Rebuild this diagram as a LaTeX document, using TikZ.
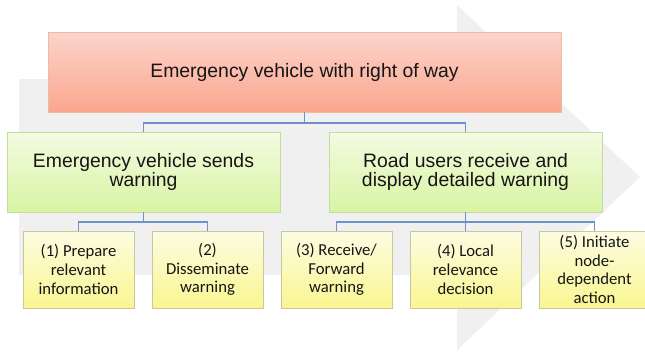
\documentclass[tikz,border=0pt]{standalone}
\usepackage{fontspec}
\setmainfont{Liberation Sans}
\newfontfamily\carlitofont{Carlito}
\usetikzlibrary{shadows}
\definecolor{bgarrow}{HTML}{F0F0F0}
\definecolor{pinkTop}{HTML}{FCD4CC}
\definecolor{pinkBot}{HTML}{FBA68D}
\definecolor{pinkLine}{HTML}{ECBBA4}
\definecolor{greenTop}{HTML}{F3FBE2}
\definecolor{greenBot}{HTML}{D8F4A2}
\definecolor{greenLine}{HTML}{C6DBA4}
\definecolor{yelTop}{HTML}{FDFCE2}
\definecolor{yelBot}{HTML}{F9F690}
\definecolor{yelLine}{HTML}{C8C7A2}
\definecolor{connBlue}{HTML}{6B93C7}
\definecolor{txt}{HTML}{151515}
\tikzset{
  boxbase/.style={draw, line width=0.8pt, inner sep=0pt, align=center, text=txt,
    drop shadow={shadow xshift=1pt, shadow yshift=-1.3pt, fill=black, opacity=0.22}},
  topbox/.style={boxbase, draw=pinkLine, top color=pinkTop, bottom color=pinkBot,
    minimum width=513pt, minimum height=80pt, font=\fontsize{19.4}{20}\selectfont},
  midbox/.style={boxbase, draw=greenLine, top color=greenTop, bottom color=greenBot,
    minimum width=273pt, minimum height=80pt, font=\fontsize{19.4}{19.5}\selectfont},
  leafbox/.style={boxbase, draw=yelLine, top color=yelTop, bottom color=yelBot,
    minimum width=111pt, minimum height=77pt, font=\carlitofont\fontsize{16.7}{18.6}\selectfont},
  conn/.style={draw=connBlue, line width=1.3pt}
}
\begin{document}
\begin{tikzpicture}[x=1pt,y=-1pt]
\useasboundingbox (0,0) rectangle (645,351);
\clip (0,0) rectangle (645,351);
% background arrow
\fill[bgarrow] (19,79) -- (457,79) -- (457,5) -- (640,177) -- (457,350) -- (457,275) -- (19,275) -- cycle;
% nodes
\node[topbox] (top) at (304.5,72) {Emergency vehicle with right of way};
\node[midbox] (lg) at (143.5,172) {Emergency vehicle sends\\warning};
\node[midbox] (rg) at (465.5,172) {Road users receive and\\display detailed warning};
\node[leafbox] (y1) at (78.5,269.5) {(1) Prepare\\relevant\\information};
\node[leafbox] (y2) at (207.5,269.5) {(2)\\Disseminate\\warning};
\node[leafbox] (y3) at (336.5,269.5) {(3) Receive/\\Forward\\warning};
\node[leafbox] (y4) at (465.5,269.5) {(4) Local\\relevance\\decision};
\node[leafbox] (y5) at (594.5,269.5) {(5) Initiate\\node-\\dependent\\action};
% junctions
\coordinate (j1) at (304.5,123);
\coordinate (j2) at (143.5,222);
\coordinate (j3) at (465.5,222);
% connectors
\draw[conn] (top.south) -- (j1);
\draw[conn] (lg.north) |- (j1) -| (rg.north);
\draw[conn] (lg.south) -- (j2);
\draw[conn] (y1.north) |- (j2) -| (y2.north);
\draw[conn] (rg.south) -- (j3);
\draw[conn] (y3.north) |- (j3) -| (y5.north);
\draw[conn] (y4.north) -- (j3);
\end{tikzpicture}
\end{document}
